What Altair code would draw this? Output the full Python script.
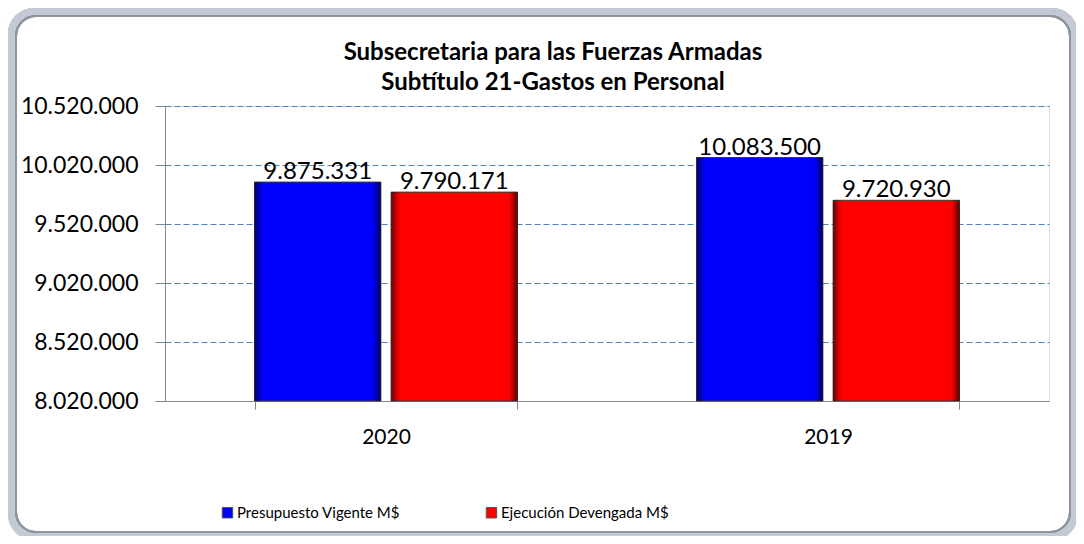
import altair as alt
import pandas as pd

title_lines = ["Subsecretaria para las Fuerzas Armadas", "Subtítulo 21-Gastos en Personal"]
years = ["2020", "2020", "2019", "2019"]
series = ["Presupuesto Vigente M$", "Ejecución Devengada M$",
          "Presupuesto Vigente M$", "Ejecución Devengada M$"]
values = [9875331, 9790171, 10083500, 9720930]
year_order = ["2020", "2019"]
series_order = ["Presupuesto Vigente M$", "Ejecución Devengada M$"]
colors = ["#0000FF", "#FF0000"]
y_ticks = [8020000, 8520000, 9020000, 9520000, 10020000, 10520000]
y_min, y_max = 8020000, 10520000

df = pd.DataFrame({"year": years, "series": series, "value": values})

FONT = "Lato"
fmt = "join(split(format(datum.value, ','), ','), '.')"

x_enc = alt.X("year:N", sort=year_order,
              scale=alt.Scale(paddingInner=0.405, paddingOuter=0.2025),
              axis=alt.Axis(title=None, labelAngle=0, tickBand="extent",
                            labelFontSize=21, labelFont=FONT, labelColor="#000",
                            labelPadding=17, tickSize=8, tickColor="#888",
                            domainColor="#888", grid=False))
xo_enc = alt.XOffset("series:N", sort=series_order,
                     scale=alt.Scale(paddingInner=0.075))
y_enc = alt.Y("value:Q",
              scale=alt.Scale(domain=[y_min, y_max], nice=False, zero=False),
              axis=alt.Axis(title=None, values=y_ticks, labelExpr=fmt,
                            labelFontSize=23, labelFont=FONT, labelColor="#000",
                            labelPadding=17, tickSize=10, tickColor="#888",
                            domainColor="#888", grid=True, gridColor="#4F81BD",
                            gridDash=[6, 3], gridWidth=1.2))

base = alt.Chart(df)

# decorative frame around the whole chart
frame_outer = base.mark_rect(
    fill=None, stroke="#c3cad3", strokeWidth=8, cornerRadius=22
).encode(x=alt.value(-153), x2=alt.value(909), y=alt.value(-94), y2=alt.value(430))
frame_inner = base.mark_rect(
    fill=None, stroke="#8d959f", strokeWidth=2, cornerRadius=20
).encode(x=alt.value(-149), x2=alt.value(905), y=alt.value(-90), y2=alt.value(426))

title = alt.Chart(pd.DataFrame({"t": [0]})).mark_text(
    text=title_lines, font=FONT, fontSize=24, fontWeight="bold", color="#000",
    align="center", baseline="alphabetic", lineHeight=30
).encode(x=alt.value(388), y=alt.value(-46))

bars = base.mark_bar(stroke="#3a3a3a", strokeWidth=1).encode(
    x=x_enc, xOffset=xo_enc, y=y_enc, y2=alt.Y2(datum=y_min),
    color=alt.Color("series:N", sort=series_order,
                    scale=alt.Scale(domain=series_order, range=colors),
                    legend=alt.Legend(title=None, orient="none", direction="horizontal",
                                      legendX=55, legendY=399,
                                      symbolType="square", symbolSize=110,
                                      symbolStrokeColor="#555", symbolStrokeWidth=1,
                                      symbolOpacity=1,
                                      labelFont=FONT, labelFontSize=15, labelColor="#000",
                                      labelOffset=2, columnPadding=83, labelLimit=300)),
)

shade = base.mark_bar(
    fill=alt.LinearGradient(
        gradient="linear", x1=0, x2=1, y1=0, y2=0,
        stops=[alt.GradientStop(offset=0, color="rgba(0,0,0,0.55)"),
               alt.GradientStop(offset=0.07, color="rgba(0,0,0,0)"),
               alt.GradientStop(offset=0.93, color="rgba(0,0,0,0)"),
               alt.GradientStop(offset=1, color="rgba(0,0,0,0.6)")]),
    strokeWidth=0,
).encode(x=alt.X("year:N", sort=year_order), xOffset=alt.XOffset("series:N", sort=series_order),
         y="value:Q", y2=alt.Y2(datum=y_min))

labels = base.mark_text(baseline="alphabetic", dy=-3, fontSize=24, font=FONT, color="#000").encode(
    x=alt.X("year:N", sort=year_order), xOffset=alt.XOffset("series:N", sort=series_order),
    y="value:Q",
    text=alt.Text("label:N"),
).transform_calculate(label=fmt)

chart = alt.layer(frame_outer, frame_inner, title, bars, shade, labels).properties(
    width=884, height=295,
    padding={"left": 157, "top": 98, "right": 27, "bottom": 135},
    autosize=alt.AutoSizeParams(type="none"),
).configure_view(stroke=None).configure(background="white")

chart.save("out.html", embed_options={"renderer": "svg", "actions": False})
